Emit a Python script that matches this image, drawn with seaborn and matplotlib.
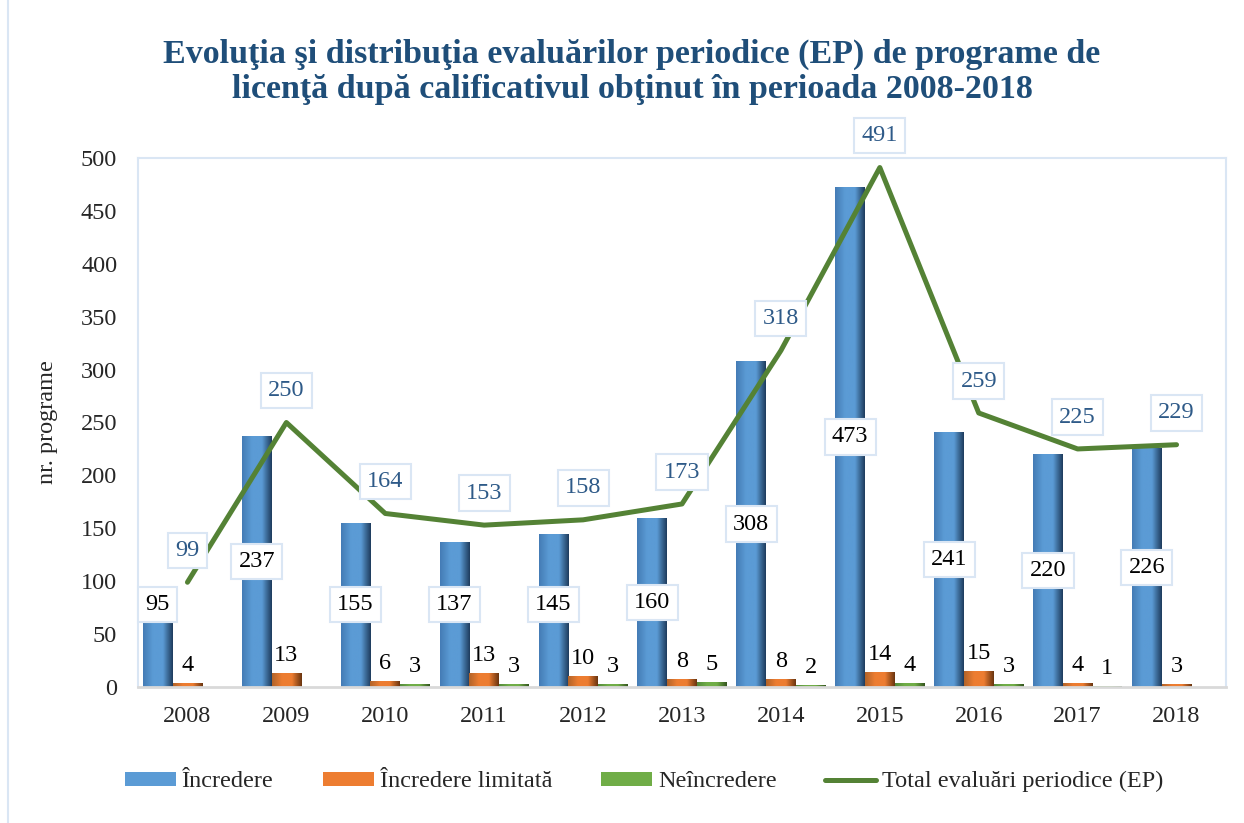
import numpy as np
import pandas as pd
import matplotlib.pyplot as plt
import matplotlib.colors as mcolors
import seaborn as sns

years = ['2008', '2009', '2010', '2011', '2012', '2013', '2014', '2015', '2016', '2017', '2018']
incredere = [95, 237, 155, 137, 145, 160, 308, 473, 241, 220, 226]
limitata = [4, 13, 6, 13, 10, 8, 8, 14, 15, 4, 3]
neincredere = [0, 0, 3, 3, 3, 5, 2, 4, 3, 1, 0]
total = [99, 250, 164, 153, 158, 173, 318, 491, 259, 225, 229]
series_names = ['Încredere', 'Încredere limitată', 'Neîncredere']
line_name = 'Total evaluări periodice (EP)'

sns.set_style('white')
plt.rcParams['font.family'] = ['Liberation Serif', 'DejaVu Serif']

df = pd.DataFrame({'an': years * 3,
                   'valoare': incredere + limitata + neincredere,
                   'calificativ': np.repeat(series_names, len(years))})

colors = ['#5B9BD5', '#ED7D31', '#70AD47']
dark = ['#1F3D5E', '#6B3510', '#35561F']

fig = plt.figure(figsize=(12.44, 8.23), dpi=100)
ax = fig.add_axes([138 / 1244, 1 - 687 / 823, (1226 - 138) / 1244, (687 - 158) / 823])

sns.barplot(data=df, x='an', y='valoare', hue='calificativ', palette=colors,
            width=0.9, dodge=True, ax=ax, saturation=1, errorbar=None,
            edgecolor='none')

# fake the cylinder shading: horizontal gradient clipped to each bar
for cont, c, d in zip(ax.containers, colors, dark):
    cmap = mcolors.LinearSegmentedColormap.from_list(
        'g', [mcolors.to_rgb(c) * np.array([0.75, 0.8, 0.85]), mcolors.to_rgb(c),
              mcolors.to_rgb(c), d])
    grad = np.linspace(0, 1, 64).reshape(1, -1)
    for p in cont.patches:
        x0, y0 = p.get_x(), p.get_y()
        w, h = p.get_width(), p.get_height()
        if h <= 0:
            continue
        im = ax.imshow(grad, cmap=cmap, aspect='auto', extent=(x0, x0 + w, y0, y0 + h),
                       zorder=p.get_zorder() + 0.1)
        im.set_clip_path(p)

sns.lineplot(x=np.arange(len(years)), y=total, color='#548235', linewidth=3.6,
             label=line_name, ax=ax, zorder=5)

ax.set_xlim(-0.5, len(years) - 0.5)
ax.set_ylim(0, 500)
ax.set_yticks(range(0, 501, 50))
ax.tick_params(axis='both', length=0, labelsize=17.5)
ax.tick_params(axis='y', pad=15)
ax.tick_params(axis='x', pad=14)
ax.set_xlabel('')
ax.set_ylabel('nr. programe', fontsize=17.5, labelpad=16)

for s in ['top', 'right', 'left']:
    ax.spines[s].set_color('#DAE6F4')
    ax.spines[s].set_linewidth(1.5)
ax.spines['bottom'].set_color('#D9D9D9')
ax.spines['bottom'].set_linewidth(2)

box = dict(boxstyle='square,pad=0.3', fc='white', ec='#DAE6F4', lw=1.5)

# Încredere labels in the middle of the bar
for p, v in zip(ax.containers[0].patches, incredere):
    ax.annotate(str(v), (p.get_x() + p.get_width() / 2, max(v / 2, 78)),
                ha='center', va='center', fontsize=17.5, color='black', bbox=box, zorder=7)

for cont, vals in zip(ax.containers[1:3], [limitata, neincredere]):
    ax.bar_label(cont, labels=[str(v) if v else '' for v in vals],
                 padding=5, fontsize=17.5, color='black')

for i, v in enumerate(total):
    ax.annotate(str(v), (i, v), xytext=(0, 23), textcoords='offset points',
                ha='center', va='center', fontsize=17.5, color='#2E5A88',
                bbox=box, zorder=8, annotation_clip=False)

handles, labels = ax.get_legend_handles_labels()
ax.get_legend().remove()
fig.legend(handles, labels, loc='center', bbox_to_anchor=(0.518, 0.05), ncol=4,
           frameon=False, fontsize=17.5, handlelength=2.1, handleheight=0.5,
           handletextpad=0.25, columnspacing=2.0)

fig.text(0.508, 1 - 72 / 823,
         'Evoluţia şi distribuţia evaluărilor periodice (EP) de programe de\n'
         'licenţă după calificativul obţinut în perioada 2008-2018',
         ha='center', va='center', fontsize=24.5, fontweight='bold',
         color='#1F4E79', linespacing=1.15)

fig.add_artist(plt.Line2D([8 / 1244, 8 / 1244], [0, 1], color='#DAE6F4', lw=1.5))

fig.savefig('out.png', dpi=100)
